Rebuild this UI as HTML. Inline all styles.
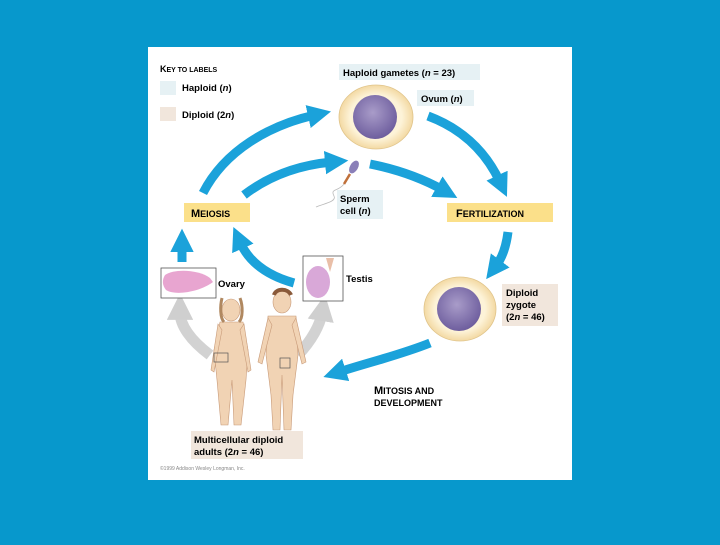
<!DOCTYPE html>
<html><head><style>
body{margin:0;width:720px;height:540px;background:#0798cc;overflow:hidden;font-family:"Liberation Sans",sans-serif}
</style></head><body>
<svg width="720" height="540" viewBox="0 0 720 540" xmlns="http://www.w3.org/2000/svg" font-family="Liberation Sans, sans-serif">
<defs>
<marker id="ah" viewBox="0 0 10 10" refX="3" refY="5" markerWidth="2.6" markerHeight="2.6" orient="auto"><path d="M0,0 L10,5 L0,10 z" fill="#1ba2da"/></marker>
<marker id="gh" viewBox="0 0 10 10" refX="3" refY="5" markerWidth="2.4" markerHeight="2.4" orient="auto"><path d="M0,0 L10,5 L0,10 z" fill="#cfcfcf"/></marker>
<radialGradient id="nuc" cx="0.45" cy="0.4" r="0.6"><stop offset="0" stop-color="#a99cc9"/><stop offset="1" stop-color="#6e5e9e"/></radialGradient>
<radialGradient id="cyt" cx="0.5" cy="0.5" r="0.5"><stop offset="0.7" stop-color="#fdf3d8"/><stop offset="1" stop-color="#f3d9a3"/></radialGradient>
</defs>
<rect x="148" y="47" width="424" height="433" fill="#fff"/>
<!-- key -->
<text x="160" y="72" font-size="9" font-weight="bold">K<tspan font-size="7">EY TO LABELS</tspan></text>
<rect x="160" y="81" width="16" height="14" fill="#e6f1f4"/>
<text x="182" y="91" font-size="9.5" font-weight="bold">Haploid (<tspan font-style="italic">n</tspan>)</text>
<rect x="160" y="107" width="16" height="14" fill="#f1e6dc"/>
<text x="182" y="118" font-size="9.5" font-weight="bold">Diploid (2<tspan font-style="italic">n</tspan>)</text>
<!-- labels -->
<rect x="339" y="64" width="141" height="16" fill="#e6f1f4"/>
<text x="343" y="76" font-size="9.5" font-weight="bold">Haploid gametes (<tspan font-style="italic">n</tspan> = 23)</text>
<rect x="417" y="90" width="57" height="16" fill="#e6f1f4"/>
<text x="421" y="102" font-size="9.5" font-weight="bold">Ovum (<tspan font-style="italic">n</tspan>)</text>
<rect x="337" y="190" width="46" height="29" fill="#e6f1f4"/>
<text x="340" y="202" font-size="9.5" font-weight="bold">Sperm</text>
<text x="340" y="214" font-size="9.5" font-weight="bold">cell (<tspan font-style="italic">n</tspan>)</text>
<rect x="184" y="203" width="66" height="19" fill="#fbe08a"/>
<text x="191" y="217" font-size="11" font-weight="bold">M<tspan font-size="9">EIOSIS</tspan></text>
<rect x="447" y="203" width="106" height="19" fill="#fbe08a"/>
<text x="456" y="217" font-size="11" font-weight="bold">F<tspan font-size="9">ERTILIZATION</tspan></text>
<rect x="502" y="284" width="56" height="42" fill="#f1e6dc"/>
<text x="506" y="296" font-size="9.5" font-weight="bold">Diploid</text>
<text x="506" y="308" font-size="9.5" font-weight="bold">zygote</text>
<text x="506" y="320" font-size="9.5" font-weight="bold">(2<tspan font-style="italic">n</tspan> = 46)</text>
<text x="374" y="394" font-size="11" font-weight="bold">M<tspan font-size="9">ITOSIS AND</tspan></text>
<text x="374" y="406" font-size="9" font-weight="bold">DEVELOPMENT</text>
<rect x="191" y="431" width="112" height="28" fill="#f1e6dc"/>
<text x="194" y="443" font-size="9.5" font-weight="bold">Multicellular diploid</text>
<text x="194" y="455" font-size="9.5" font-weight="bold">adults (2<tspan font-style="italic">n</tspan> = 46)</text>
<text x="160" y="470" font-size="5" fill="#888">©1999 Addison Wesley Longman, Inc.</text>
<text x="218" y="287" font-size="9.5" font-weight="bold">Ovary</text>
<text x="346" y="282" font-size="9.5" font-weight="bold">Testis</text>
<!-- cells -->
<ellipse cx="376" cy="117" rx="37" ry="32" fill="url(#cyt)" stroke="#e0c48a" stroke-width="0.8"/>
<circle cx="375" cy="117" r="22" fill="url(#nuc)"/>
<ellipse cx="460" cy="309" rx="36" ry="32" fill="url(#cyt)" stroke="#e0c48a" stroke-width="0.8"/>
<circle cx="459" cy="309" r="22" fill="url(#nuc)"/>
<!-- sperm -->
<ellipse cx="354" cy="167" rx="4" ry="7" transform="rotate(30 354 167)" fill="#8a7fb8"/>
<path d="M350,174 L344,184" stroke="#c0703a" stroke-width="2.5"/>
<path d="M344,184 C338,192 330,188 334,196 C337,202 322,204 316,207" stroke="#bbb" fill="none" stroke-width="0.8"/>
<!-- blue arrows -->
<g stroke="#1ba2da" stroke-width="9" fill="none" marker-end="url(#ah)">
<path d="M203,193 C225,150 270,125 315,115"/>
<path d="M244,195 C270,175 300,165 332,162"/>
<path d="M370,164 C400,170 425,180 443,190"/>
<path d="M428,116 C460,128 485,150 500,182"/>
<path d="M508,232 C506,248 502,258 496,266"/>
<path d="M430,343 C400,355 370,362 339,372"/>
<path d="M294,283 C265,275 248,260 240,242"/>
<path d="M182,262 L182,245"/>
</g>
<!-- gray arrows -->
<g stroke="#d2d2d2" stroke-width="11" fill="none" marker-end="url(#gh)">
<path d="M210,355 C190,340 180,325 180,312"/>
<path d="M298,355 C312,340 320,325 322,313"/>
</g>
<!-- ovary/testis boxes -->
<rect x="161" y="268" width="55" height="30" fill="#fff" stroke="#555" stroke-width="0.8"/>
<path d="M165,275 C175,268 200,270 210,278 L213,282 C200,292 175,296 166,290 C162,285 162,280 165,275z" fill="#e8a5d0"/>
<rect x="303" y="256" width="40" height="45" fill="#fff" stroke="#555" stroke-width="0.8"/>
<ellipse cx="318" cy="282" rx="12" ry="16" fill="#d9a8d8"/>
<path d="M326,258 L330,272 L334,258" fill="#e9bfa8"/>
<!-- humans -->
<g fill="#f1d3b4" stroke="#c89a78" stroke-width="0.6">
<ellipse cx="231" cy="310" rx="9" ry="11"/>
<path d="M220,322 L243,322 L248,350 L246,380 L241,425 L234,425 L232,380 L228,425 L221,425 L217,380 L214,350 z"/>
<path d="M218,324 L211,370 L214,372 L222,330z M244,324 L251,370 L248,372 L240,330z"/>
<ellipse cx="282" cy="302" rx="9" ry="11"/>
<path d="M268,316 L296,316 L298,355 L293,395 L291,430 L284,430 L282,375 L280,430 L273,430 L271,395 L266,355 z"/>
<path d="M268,318 L258,362 L262,364 L272,325z M296,318 L306,362 L302,364 L292,325z"/>
</g>
<path d="M222,298 C220,306 220,318 224,322 M240,298 C243,306 243,318 239,322" stroke="#b08860" stroke-width="3" fill="none"/>
<path d="M274,295 C276,288 288,288 291,295" stroke="#8a5a3a" stroke-width="4" fill="none"/>
<rect x="214" y="353" width="14" height="9" fill="none" stroke="#555" stroke-width="0.7"/>
<rect x="280" y="358" width="10" height="10" fill="none" stroke="#555" stroke-width="0.7"/>
</svg>
</body></html>
